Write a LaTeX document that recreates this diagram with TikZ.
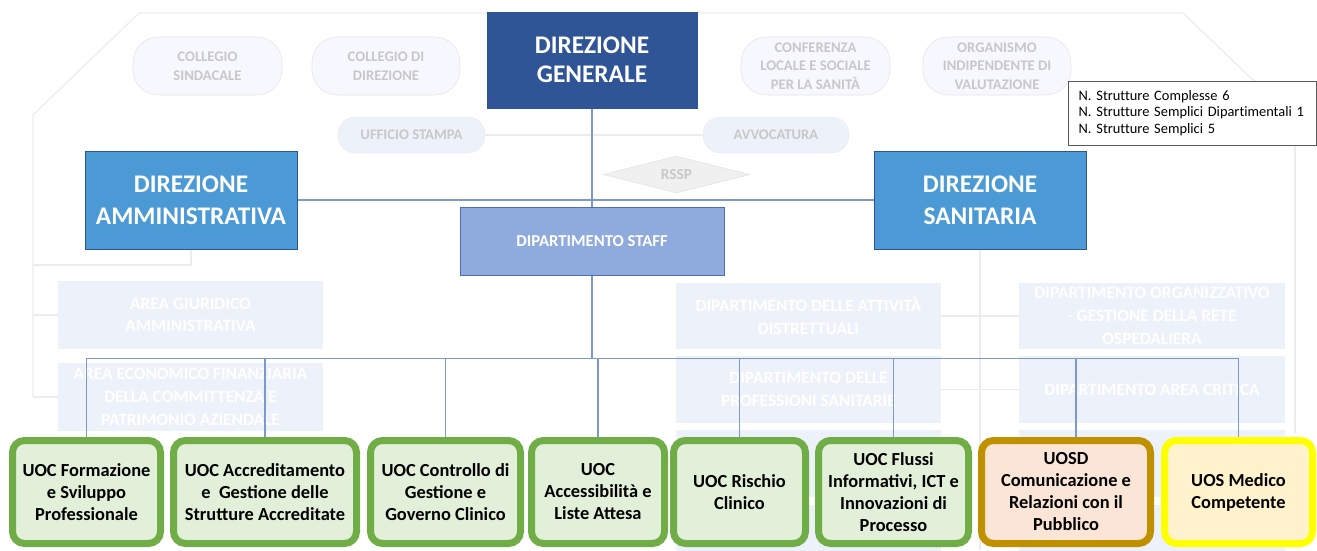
\documentclass[tikz,border=0pt]{standalone}
\usepackage{fontspec}
\setmainfont{Carlito}
\newfontfamily\infofont{Carlito}[Ligatures=NoCommon]
\usetikzlibrary{shapes.geometric}
\pgfdeclarelayer{back}
\pgfsetlayers{back,main}
\definecolor{dgblue}{RGB}{47,85,151}
\definecolor{dirblue}{RGB}{76,154,213}
\definecolor{dirline}{RGB}{46,84,150}
\definecolor{staffblue}{RGB}{143,170,220}
\definecolor{staffline}{RGB}{80,110,175}
\definecolor{linkblue}{RGB}{125,152,206}
\definecolor{uocline}{RGB}{112,173,71}
\definecolor{uocfill}{RGB}{226,240,217}
\definecolor{uosdline}{RGB}{191,144,0}
\definecolor{uosdfill}{RGB}{251,229,214}
\definecolor{uosline}{RGB}{255,255,0}
\definecolor{uosfill}{RGB}{255,242,204}
\definecolor{ghostfill}{RGB}{237,241,249}
\definecolor{ghostline}{RGB}{228,228,228}
\definecolor{ghosttext}{RGB}{200,200,200}
\definecolor{framegray}{RGB}{236,236,236}
\tikzset{
  sz/.style 2 args={minimum width=#1*0.75pt, minimum height=#2*0.75pt},
  dg/.style={draw=dirline, fill=dgblue, text=white, align=center, inner sep=0pt,
    font=\fontsize{19}{22}\selectfont\bfseries},
  dir/.style={draw=dirline, fill=dirblue, text=white, align=center, inner sep=0pt,
    font=\fontsize{19}{24}\selectfont\bfseries},
  staff/.style={draw=staffline, fill=staffblue, text=white, align=center, inner sep=0pt,
    font=\fontsize{12.5}{15}\selectfont\bfseries},
  info/.style={draw=black!65, fill=white, align=left, inner xsep=8pt, inner ysep=0pt,
    text width=170pt, minimum height=48pt, font=\infofont\fontsize{10.8}{12.4}\selectfont},
  uoc/.style={draw=uocline, fill=uocfill, line width=5.25pt, rounded corners=9pt,
    align=center, inner sep=0pt, font=\fontsize{13.8}{16.5}\selectfont\bfseries},
  uosd/.style={uoc, draw=uosdline, fill=uosdfill},
  uos/.style={uoc, draw=uosline, fill=uosfill},
  pill/.style={draw=ghostline, fill=white!97!blue, text=ghosttext, rounded corners=19pt,
    align=center, inner sep=0pt, font=\fontsize{11}{14}\selectfont\bfseries},
  pillb/.style={pill, fill=ghostfill, draw=ghostfill!80!black!30, rounded corners=13pt},
  rssp/.style={diamond, aspect=4, draw=ghostline, fill=black!6, text=ghosttext, inner sep=0pt,
    font=\fontsize{11.5}{14}\selectfont\bfseries},
  ghost/.style={fill=ghostfill, text=white, align=center, inner sep=0pt,
    font=\fontsize{13}{17}\selectfont\bfseries},
  frame/.style={draw=framegray, line width=0.9pt},
  link/.style={draw=linkblue, line width=0.9pt}
}
\begin{document}
\begin{tikzpicture}[x=0.75pt, y=-0.75pt]
\useasboundingbox (0,0) rectangle (1317,550);
% main boxes
\node[dg, sz={210}{96}] (dg) at (592,60) {DIREZIONE\\GENERALE};
\node[dir, sz={212}{98}] (da) at (191,200) {DIREZIONE\\AMMINISTRATIVA};
\node[dir, sz={212}{98}] (ds) at (980,200) {DIREZIONE\\SANITARIA};
\node[staff, sz={264}{68}] (staff) at (592,241) {DIPARTIMENTO STAFF};
\node[info] (info) at (1192,113) {N. Strutture Complesse 6\\N. Strutture Semplici Dipartimentali 1\\N. Strutture Semplici 5};
% units
\node[uoc, sz={148}{103}] (b1) at (86.5,492) {UOC Formazione\\e Sviluppo\\Professionale};
\node[uoc, sz={183}{103}] (b2) at (265,492) {UOC Accreditamento\\e~ Gestione delle\\Strutture Accreditate};
\node[uoc, sz={150}{103}] (b3) at (445.5,492) {UOC Controllo di\\Gestione e\\Governo Clinico};
\node[uoc, sz={133}{103}] (b4) at (598,492) {UOC\\Accessibilità e\\Liste Attesa};
\node[uoc, sz={132}{103}] (b5) at (739.5,492) {UOC Rischio\\Clinico};
\node[uoc, sz={150}{103}] (b6) at (893.5,492) {UOC Flussi\\Informativi, ICT e\\Innovazioni di\\Processo};
\node[uosd, sz={169}{103}] (b7) at (1066,492) {UOSD\\Comunicazione e\\Relazioni con il\\Pubblico};
\node[uos, sz={148}{103}] (b8) at (1238.5,492) {UOS Medico\\Competente};

\begin{pgfonlayer}{back}
% faded organs
\draw[frame] (33,397) -- (33,115) -- (139,13) -- (1183,13) -- (1255,82);
\draw[frame] (1295,145) -- (1295,433);
\node[pill, sz={149}{58}] (cs) at (207.5,66) {COLLEGIO\\SINDACALE};
\node[pill, sz={148}{58}] (cd) at (386,66) {COLLEGIO DI\\DIREZIONE};
\node[pill, sz={149}{58}] (cl) at (815.5,66) {CONFERENZA\\LOCALE E SOCIALE\\PER LA SANITÀ};
\node[pill, sz={148}{58}] (oiv) at (997,66) {ORGANISMO\\INDIPENDENTE DI\\VALUTAZIONE};
\node[pillb, sz={147}{36}] (us) at (411.5,135) {UFFICIO STAMPA};
\node[pillb, sz={146}{36}] (avv) at (776,135) {AVVOCATURA};
\node[rssp, sz={147}{37}] (rsp) at (676.5,174.5) {RSSP};
\draw[frame] (us.east) -- (avv.west);
% faded departments
\node[ghost, sz={265}{68}] (aga) at (190.5,315) {AREA GIURIDICO\\AMMINISTRATIVA};
\node[ghost, sz={265}{68}] (aef) at (190.5,397) {AREA ECONOMICO FINANZIARIA\\DELLA COMMITTENZA E\\PATRIMONIO AZIENDALE};
\node[ghost, sz={265}{66}] (dad) at (808.5,316) {DIPARTIMENTO DELLE ATTIVITÀ\\DISTRETTUALI};
\node[ghost, sz={265}{67}] (dps) at (808.5,389.5) {DIPARTIMENTO DELLE\\PROFESSIONI SANITARIE};
\node[ghost, sz={265}{67}] (dl3) at (808.5,463.5) {};
\node[ghost, sz={265}{67}] (dl4) at (808.5,538) {};
\node[ghost, sz={266}{66}] (dor) at (1152,316) {DIPARTIMENTO ORGANIZZATIVO\\- GESTIONE DELLA RETE\\OSPEDALIERA};
\node[ghost, sz={266}{67}] (dac) at (1152,389.5) {DIPARTIMENTO AREA CRITICA};
\node[ghost, sz={266}{67}] (dr3) at (1152,463.5) {};
\node[ghost, sz={266}{67}] (dr4) at (1152,538) {};
\draw[frame] (da.south) |- (33,265);
\draw[frame] (aga.west) -- ++(-25,0);
\draw[frame] (aef.west) -- ++(-25,0);
\draw[frame] (ds.south) -- ++(0,301);
\draw[frame] (dad.east) -- (dor.west);
\draw[frame] (dps.east) -- (dac.west);
% links
\draw[link] (dg.south) -- (staff.north);
\draw[link] (da.east) -- (ds.west);
\draw[link] (staff.south) -- ++(0,83) coordinate (hub);
\draw[link] (b1.north |- hub) -- (b8.north |- hub);
\foreach \b in {b1,b2,b3,b4,b5,b6,b8}
  \draw[link] (\b.north |- hub) -- (\b.north);
\draw[link] ([xshift=7.5pt]b7.north |- hub) -- ([xshift=7.5pt]b7.north);
\end{pgfonlayer}
\end{tikzpicture}
\end{document}
